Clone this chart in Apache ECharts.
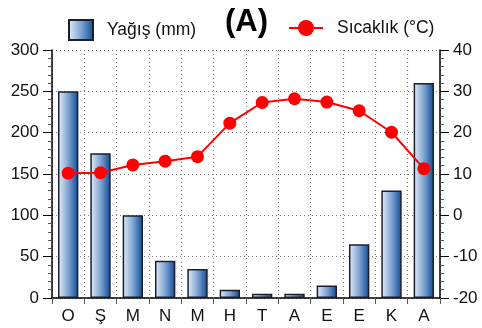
<!DOCTYPE html>
<html>
<head>
<meta charset="utf-8">
<script src="https://cdn.jsdelivr.net/npm/echarts@6/dist/echarts.min.js"></script>
<style>
  html, body { margin: 0; padding: 0; background: #fff; }
  #chart { width: 482px; height: 328px; }
</style>
</head>
<body>
<div id="chart"></div>
<script>
// Monthly climate data
const months = ['O', 'Ş', 'M', 'N', 'M', 'H', 'T', 'A', 'E', 'E', 'K', 'A'];
const precipitation = [250, 175, 100, 45, 35, 10, 5, 5, 15, 65, 130, 260];
const temperature = [10.2, 10.3, 12.2, 13.1, 14.2, 22.3, 27.3, 28.2, 27.4, 25.3, 20.1, 11.3];

const FONT = '"Liberation Sans", Arial, sans-serif';
const barFill = new echarts.graphic.LinearGradient(0, 0, 1, 0, [
  { offset: 0, color: '#e6eef8' },
  { offset: 0.5, color: '#7fa4d2' },
  { offset: 1, color: '#0d4896' }
]);

const chart = echarts.init(document.getElementById('chart'), null, { renderer: 'canvas' });

const dotted = { show: true, lineStyle: { color: '#808080', type: [1, 3], width: 1.2 } };
const minor = { show: true, splitNumber: 5, length: 4, lineStyle: { color: '#555' } };

chart.setOption({
  animation: false,
  title: {
    text: '(A)', left: 220, top: 2,
    textStyle: { fontFamily: FONT, fontWeight: 'bold', fontSize: 31, color: '#000' }
  },
  legend: [
    {
      data: [{ name: 'Yağış (mm)', icon: 'rect' }], left: 63, top: 14,
      itemWidth: 24, itemHeight: 20, itemGap: 0,
      textStyle: { fontFamily: FONT, fontSize: 17.5, color: '#111', padding: [0, 0, 0, 9] }
    },
    {
      data: ['Sıcaklık (°C)'], left: 283, top: 14,
      itemWidth: 34, itemHeight: 20, itemGap: 0,
      textStyle: { fontFamily: FONT, fontSize: 17.5, color: '#111', padding: [0, 0, 0, 9] }
    }
  ],
  grid: { left: 52, right: 42, top: 50, bottom: 30 },
  xAxis: {
    type: 'category', data: months, boundaryGap: true,
    axisLine: { lineStyle: { color: '#000', width: 1.5 } },
    axisTick: { show: true, length: 6, lineStyle: { color: '#555' } },
    axisLabel: { fontFamily: FONT, fontSize: 17, color: '#111', margin: 10 },
    splitLine: dotted
  },
  yAxis: [
    {
      type: 'value', min: 0, max: 300, interval: 50, position: 'left',
      axisLine: { show: true, lineStyle: { color: '#000', width: 1.5 } },
      axisTick: { show: true, length: 9, lineStyle: { color: '#000' } },
      minorTick: minor,
      axisLabel: { fontFamily: FONT, fontSize: 17, color: '#111', margin: 13 },
      splitLine: dotted
    },
    {
      type: 'value', min: -20, max: 40, interval: 10, position: 'right',
      axisLine: { show: true, lineStyle: { color: '#000', width: 1.5 } },
      axisTick: { show: true, length: 9, lineStyle: { color: '#000' } },
      minorTick: minor,
      axisLabel: { fontFamily: FONT, fontSize: 17, color: '#111', margin: 13 },
      splitLine: { show: false }
    }
  ],
  series: [
    {
      name: 'Yağış (mm)', type: 'bar', yAxisIndex: 0, data: precipitation,
      barWidth: '63%',
      itemStyle: { color: barFill, borderColor: '#1b1f2a', borderWidth: 1.5 }
    },
    {
      name: 'Sıcaklık (°C)', type: 'line', yAxisIndex: 1, data: temperature,
      symbol: 'circle', symbolSize: 13,
      lineStyle: { color: '#ff0000', width: 2 },
      itemStyle: { color: '#ff0000' },
      z: 5
    }
  ]
});
</script>
</body>
</html>
